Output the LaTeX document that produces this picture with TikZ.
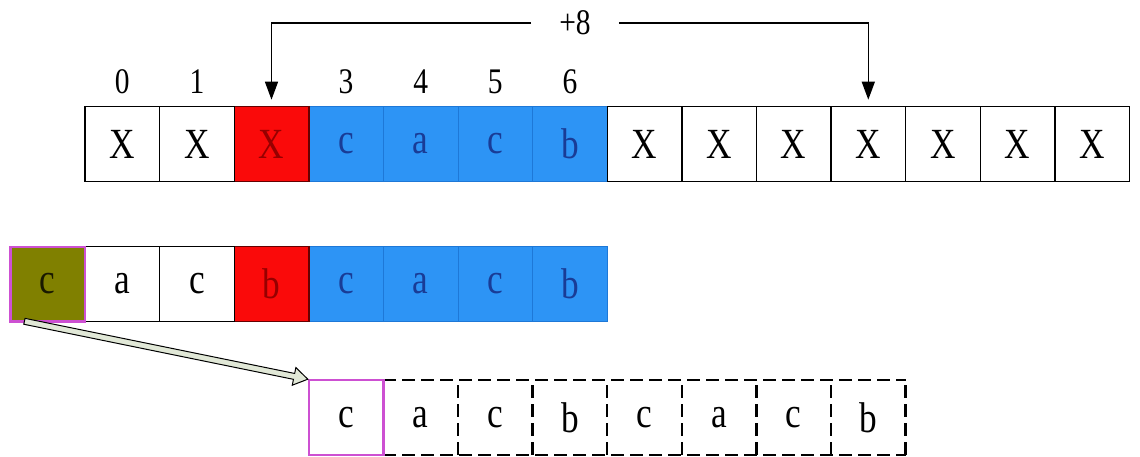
\documentclass[tikz,border=0pt]{standalone}
\usepackage{fontspec}
\setmainfont{Liberation Serif}[FakeStretch=0.82]
\usetikzlibrary{arrows.meta,calc}
\definecolor{cblue}{RGB}{45,148,245}
\definecolor{cbluedark}{RGB}{30,120,215}
\definecolor{cbluetext}{RGB}{25,60,150}
\definecolor{cred}{RGB}{250,10,10}
\definecolor{credtext}{RGB}{150,0,0}
\definecolor{colive}{RGB}{128,128,0}
\definecolor{cmag}{RGB}{205,80,210}
\definecolor{carrowfill}{RGB}{225,232,215}
\begin{document}
\begin{tikzpicture}[x=1pt,y=1pt,
  font=\fontsize{36}{40}\selectfont,
  cellbase/.style={minimum width=74.6pt,minimum height=74.6pt,inner sep=0pt,outer sep=0pt,anchor=center,font=\fontsize{43}{46}\selectfont},
  whitecell/.style={cellbase,draw=black,line width=1.4pt,fill=white},
  bluecell/.style={cellbase,draw=cbluedark,line width=0.8pt,fill=cblue,text=cbluetext},
  redcell/.style={cellbase,draw=black!60!red,line width=1.4pt,fill=cred,text=credtext},
  olivecell/.style={cellbase,draw=cmag,line width=2.4pt,fill=colive,text=black!80!colive},
  magcell/.style={cellbase,draw=cmag,line width=2.4pt},
  plaincell/.style={cellbase},
  dashline/.style={line width=2.4pt,dash pattern=on 13pt off 6pt},
  idx/.style={inner sep=0pt},
  jump/.style={line width=1.4pt,-{Triangle[length=18pt,width=13pt]},shorten >=7pt},
  hollowarrow/.style={draw=black,line width=1pt,fill=carrowfill,line join=miter}
]
\useasboundingbox (0,0) rectangle (1140,456);

% ---- top row ----
\foreach \t [count=\i from 3] in {c,a,c,b}
  \node[bluecell] (t\i) at ({122.3+74.6*\i},312) {\t};
\node[redcell] (t2) at ({122.3+74.6*2},312) {X};
\foreach \i in {0,1,7,8,9,10,11,12,13}
  \node[whitecell] (t\i) at ({122.3+74.6*\i},312) {X};

% index labels
\foreach \i in {0,1,3,4,5,6}
  \node[idx] (n\i) at ({122.3+74.6*\i},374) {\i};

% +8 jump
\node[inner xsep=28pt,inner ysep=0pt] (plus) at (575,433) {+8};
\draw[jump] (plus.west) -| (t2.north);
\draw[jump] (plus.east) -| (t10.north);

% ---- second row ----
\foreach \t [count=\i from 4] in {c,a,c,b}
  \node[bluecell] (s\i) at ({47.7+74.6*\i},172) {\t};
\node[redcell] (s3) at ({47.7+74.6*3},172) {b};
\node[whitecell] (s1) at ({47.7+74.6*1},172) {a};
\node[whitecell] (s2) at ({47.7+74.6*2},172) {c};
\node[olivecell] (s0) at (47.7,172) {c};

% ---- third row ----
\foreach \t [count=\i from 1] in {a,c,b,c,a,c,b}
  \node[plaincell] (r\i) at ({346.1+74.6*\i},38.5) {\t};
\draw[dashline] (r1.north west) -- (r7.north east);
\draw[dashline] (r1.south west) -- (r7.south east);
\foreach \i in {1,...,7}
  \draw[dashline,dash phase=-5pt] (r\i.north east) -- (r\i.south east);
\node[magcell] (r0) at (346.1,38.5) {c};

% ---- hollow arrow ----
\draw[hollowarrow] let \p1=($(s0.south west)+(14pt,0pt)$), \p2=($(r0.north west)+(-1pt,1pt)$),
  \n1={atan2(\y2-\y1,\x2-\x1)}, \n2={veclen(\x2-\x1,\y2-\y1)} in
  ($(\p1)+(\n1+90:3)$) -- ($(\p1)+(\n1:\n2-14)+(\n1+90:3)$)
  -- ($(\p1)+(\n1:\n2-14)+(\n1+90:9)$) -- (\p2)
  -- ($(\p1)+(\n1:\n2-14)+(\n1-90:9)$) -- ($(\p1)+(\n1:\n2-14)+(\n1-90:3)$)
  -- ($(\p1)+(\n1-90:3)$) -- cycle;
\end{tikzpicture}
\end{document}
